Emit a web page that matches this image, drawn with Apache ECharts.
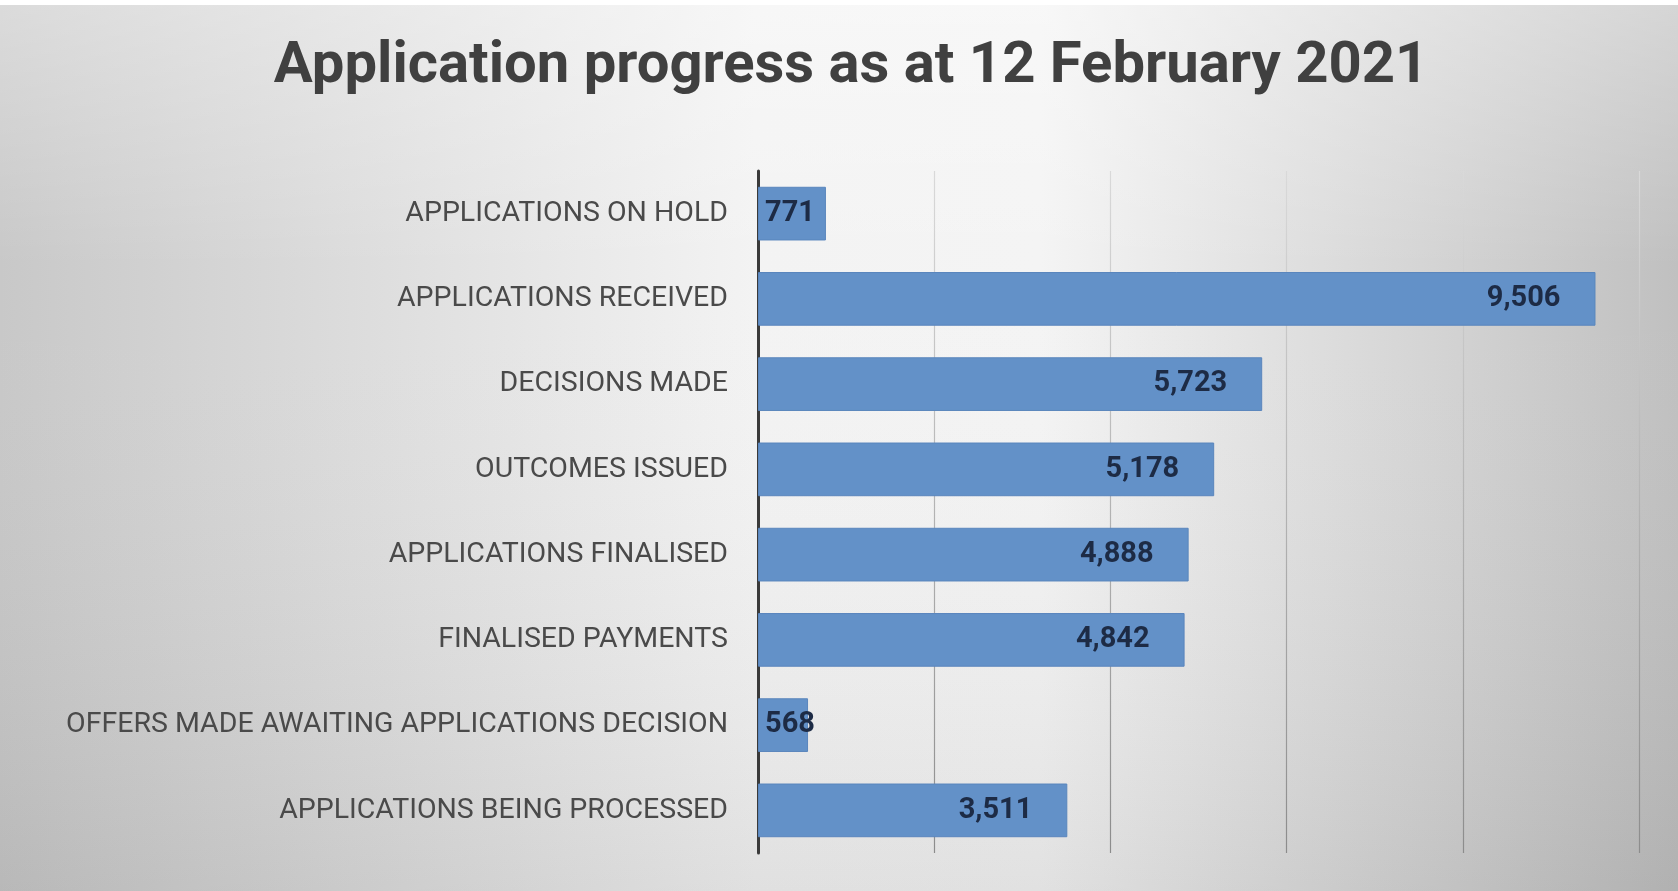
<!DOCTYPE html>
<html>
<head>
<meta charset="utf-8">
<title>Application progress</title>
<script src="https://cdn.jsdelivr.net/npm/echarts@6/dist/echarts.min.js"></script>
<style>
  html, body { margin: 0; padding: 0; }
  #chart { width: 1678px; height: 891px; }
</style>
</head>
<body>
<div id="chart"></div>
<script>
// data, top to bottom
const categories = [
  'APPLICATIONS ON HOLD',
  'APPLICATIONS RECEIVED',
  'DECISIONS MADE',
  'OUTCOMES ISSUED',
  'APPLICATIONS FINALISED',
  'FINALISED PAYMENTS',
  'OFFERS MADE AWAITING APPLICATIONS DECISION',
  'APPLICATIONS BEING PROCESSED'
];
const counts = [771, 9506, 5723, 5178, 4888, 4842, 568, 3511];
const axisMax = 10000;
const axisStep = 2000;

const font = "Roboto, 'Open Sans', sans-serif";

const chart = echarts.init(document.getElementById('chart'));

// small bars get the label at the start, the rest inside the end
const barData = counts.map(v => ({
  value: v,
  label: v < 1000
    ? { position: 'insideLeft', distance: 7 }
    : { position: 'insideRight', distance: 35 }
}));

const option = {
  animation: false,
  backgroundColor: new echarts.graphic.LinearGradient(0, 0, 1, 0, [
    { offset: 0, color: '#c8c8c8' },
    { offset: 0.45, color: '#f3f3f3' },
    { offset: 0.62, color: '#f4f4f4' },
    { offset: 1, color: '#c0c0c0' }
  ]),
  graphic: [
    {
      type: 'rect',
      z: -1,
      silent: true,
      shape: { x: 0, y: 0, width: 1678, height: 891 },
      style: {
        fill: new echarts.graphic.LinearGradient(0, 0, 0, 1, [
          { offset: 0, color: 'rgba(255,255,255,0.35)' },
          { offset: 0.3, color: 'rgba(255,255,255,0)' },
          { offset: 1, color: 'rgba(0,0,0,0.08)' }
        ])
      }
    },
    {
      type: 'rect',
      z: -1,
      silent: true,
      shape: { x: 0, y: 0, width: 1678, height: 5 },
      style: { fill: '#ffffff' }
    }
  ],
  title: {
    text: 'Application progress as at 12 February 2021',
    left: 846,
    top: 33,
    textAlign: 'center',
    textStyle: {
      color: '#404040',
      fontFamily: font,
      fontWeight: 'bold',
      fontSize: 58
    }
  },
  grid: {
    left: 758,
    right: 39,
    top: 171,
    bottom: 38,
    outerBoundsMode: 'none'
  },
  xAxis: {
    type: 'value',
    min: 0,
    max: axisMax,
    interval: axisStep,
    axisLine: { show: false },
    axisTick: { show: false },
    axisLabel: { show: false },
    splitLine: {
      lineStyle: {
        width: 1.2,
        // lines look faint at the top and darker lower down
        color: new echarts.graphic.LinearGradient(0, 171, 0, 853, [
          { offset: 0, color: '#d9d9d9' },
          { offset: 1, color: '#8c8c8c' }
        ], true)
      }
    }
  },
  yAxis: {
    type: 'category',
    data: categories,
    inverse: true,
    axisTick: { show: false },
    axisLine: {
      lineStyle: { color: '#3a3a3a', width: 3 }
    },
    axisLabel: {
      margin: 30,
      color: '#4a4a4a',
      fontFamily: font,
      fontSize: 28.5
    }
  },
  series: [
    {
      type: 'bar',
      data: barData,
      barCategoryGap: '37%',
      itemStyle: {
        color: '#6391c8',
        borderColor: '#5a86bd',
        borderWidth: 1
      },
      label: {
        show: true,
        color: '#1d2b45',
        fontFamily: font,
        fontWeight: 'bold',
        fontSize: 29,
        formatter: p => p.value.toLocaleString('en-US')
      }
    }
  ]
};

chart.setOption(option);
</script>
</body>
</html>
